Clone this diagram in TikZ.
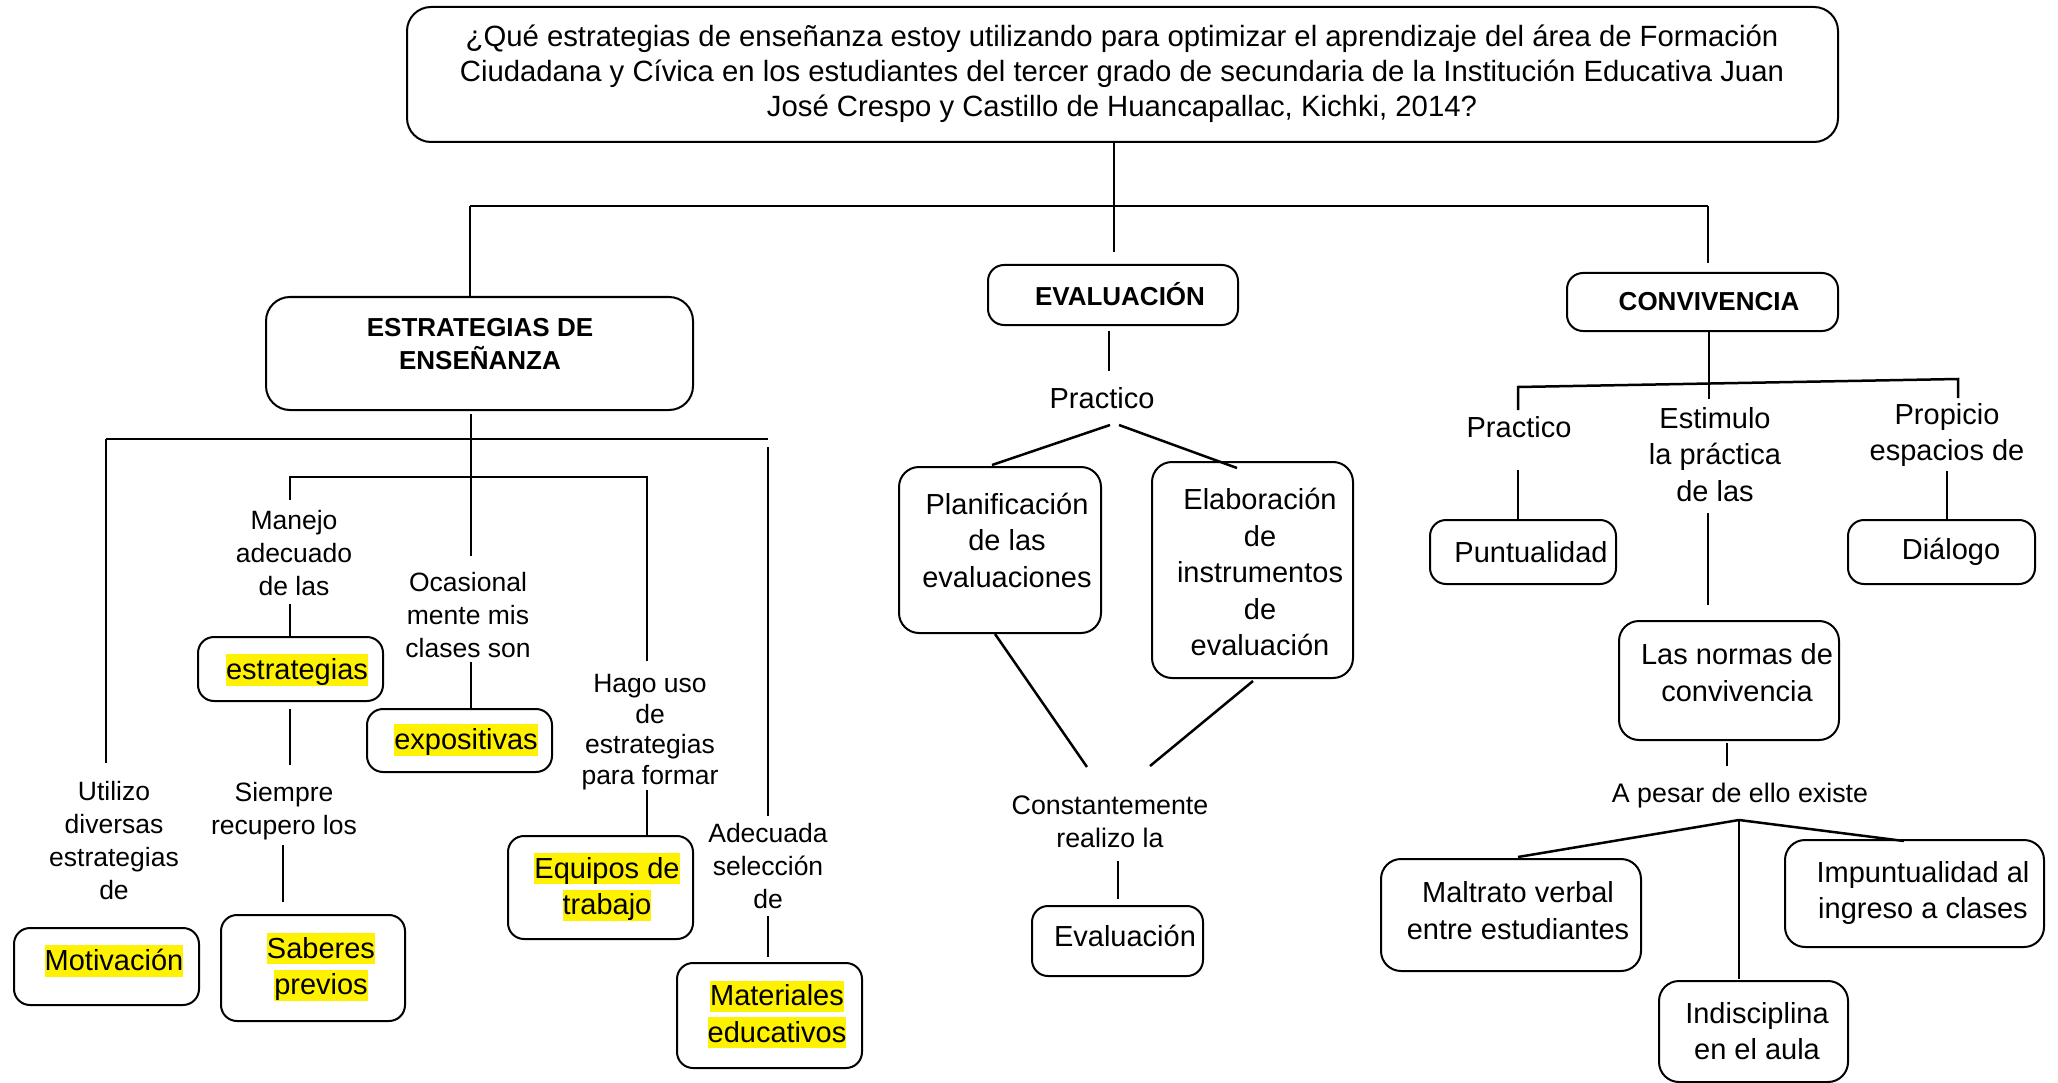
\documentclass[tikz,border=0pt]{standalone}
\usepackage{fontspec}
\setmainfont{Liberation Sans}
\newcommand{\hlt}[1]{{\setlength{\fboxsep}{0pt}\colorbox{yellow}{\vphantom{Áj}#1}}}
\begin{document}
\begin{tikzpicture}[x=1pt,y=-1pt,
  box/.style={draw, line width=2pt, rounded corners=16pt, inner sep=0pt},
  bigbox/.style={box, rounded corners=24pt},
  midbox/.style={box, rounded corners=20pt},
  conn/.style={line width=2.5pt},
  txtT/.style={font=\fontsize{29.3}{35}\selectfont, align=center, inner sep=0pt},
  txtL/.style={font=\fontsize{26.5}{33}\selectfont, align=center, inner sep=0pt},
  txtS/.style={font=\fontsize{26.8}{33}\selectfont, align=center, inner sep=0pt},
  txtM/.style={font=\fontsize{29}{36.5}\selectfont, align=center, inner sep=0pt},
  txtB/.style={font=\bfseries\fontsize{26}{33}\selectfont, align=center, inner sep=0pt}]
\useasboundingbox[fill=white] (0,0) rectangle (2058,1083);

% ---------- top question ----------
\node[bigbox, minimum width=1431pt, minimum height=135pt] (q) at (1122.5,74.5) {};
\node[txtT] (qt) at (1122,74) {¿Qué estrategias de enseñanza estoy utilizando para optimizar el aprendizaje del área de Formación\\Ciudadana y Cívica en los estudiantes del tercer grado de secundaria de la Institución Educativa Juan\\José Crespo y Castillo de Huancapallac, Kichki, 2014?};

% ---------- main headings ----------
\node[bigbox, minimum width=427pt, minimum height=113pt] (bEst) at (479.5,353.5) {};
\node[txtB] (tEst) at (480,344.5) {ESTRATEGIAS DE\\ENSEÑANZA};
\node[box, minimum width=250pt, minimum height=60pt] (bEv) at (1113,295) {};
\node[txtB] (tEv) at (1120,294) {EVALUACIÓN};
\node[box, minimum width=271pt, minimum height=58pt] (bCo) at (1702.5,302) {};
\node[txtB] (tCo) at (1709,302) {CONVIVENCIA};

% ---------- left branch ----------
\node[txtL] (tMan) at (294,553) {Manejo\\adecuado\\de las};
\node[box, minimum width=185pt, minimum height=64pt] (bEstr) at (290.5,669) {};
\node[txtM] (tEstr) at (297,670) {\hlt{estrategias}};
\node[txtL] (tSie) at (284,811) {Siempre\\recupero los};
\node[box, minimum width=184pt, minimum height=106pt] (bSab) at (313,968) {};
\node[txtM] (tSab) at (321,967) {\hlt{Saberes}\\\hlt{previos}};
\node[txtL] (tUti) at (114,840.5) {Utilizo\\diversas\\estrategias\\de};
\node[box, minimum width=185pt, minimum height=77pt] (bMot) at (106.5,966.5) {};
\node[txtM] (tMot) at (114,961) {\hlt{Motivación}};
\node[txtL] (tOca) at (468,615) {Ocasional\\mente mis\\clases son};
\node[box, minimum width=185pt, minimum height=63pt] (bExp) at (459.5,740.5) {};
\node[txtM] (tExp) at (466,740) {\hlt{expositivas}};
\node[txtL, font=\fontsize{26.5}{30.6}\selectfont] (tHag) at (650,732) {Hago uso\\de\\estrategias\\para formar};
\node[box, minimum width=185pt, minimum height=103pt] (bEqu) at (600.5,887.5) {};
\node[txtM] (tEqu) at (607,887) {\hlt{Equipos de}\\\hlt{trabajo}};
\node[txtL] (tAde) at (768,866.5) {Adecuada\\selección\\de};
\node[box, minimum width=185pt, minimum height=105pt] (bMat) at (769.5,1015.5) {};
\node[txtM] (tMat) at (777,1014.5) {\hlt{Materiales}\\\hlt{educativos}};

% ---------- middle branch ----------
\node[txtM] (tPr1) at (1102,398) {Practico};
\node[midbox, minimum width=202pt, minimum height=166pt] (bPla) at (1000,550) {};
\node[txtM] (tPla) at (1007,540) {Planificación\\de las\\evaluaciones};
\node[midbox, minimum width=201pt, minimum height=216pt] (bEla) at (1252.5,570) {};
\node[txtM] (tEla) at (1260,572) {Elaboración\\de\\instrumentos\\de\\evaluación};
\node[txtS] (tCon) at (1110,822) {Constantemente\\realizo la};
\node[box, minimum width=171pt, minimum height=70pt] (bEva) at (1117.5,941) {};
\node[txtM] (tEva) at (1125,936) {Evaluación};

% ---------- right branch ----------
\node[txtM] (tPr2) at (1519,427) {Practico};
\node[box, minimum width=186pt, minimum height=64pt] (bPun) at (1523,552) {};
\node[txtM] (tPun) at (1531,552) {Puntualidad};
\node[txtM] (tEst2) at (1715,454.5) {Estimulo\\la práctica\\de las};
\node[txtM] (tPro) at (1947,435) {Propicio\\espacios de};
\node[box, minimum width=187pt, minimum height=64pt] (bDia) at (1941.5,552) {};
\node[txtM] (tDia) at (1951,552) {Diálogo};
\node[midbox, minimum width=220pt, minimum height=119pt] (bNor) at (1729,680.5) {};
\node[txtM] (tNor) at (1737,672.5) {Las normas de\\convivencia};
\node[txtS] (tApe) at (1740,796) {A pesar de ello existe};
\node[midbox, minimum width=260pt, minimum height=112pt] (bMal) at (1511,915) {};
\node[txtM] (tMal) at (1518,910.5) {Maltrato verbal\\entre estudiantes};
\node[midbox, minimum width=259pt, minimum height=107pt] (bImp) at (1914.5,893.5) {};
\node[txtM] (tImp) at (1923,893) {Impuntualidad al\\ingreso a clases};
\node[midbox, minimum width=189pt, minimum height=101pt] (bInd) at (1753.5,1031.5) {};
\node[txtM] (tInd) at (1757,1031) {Indisciplina\\en el aula};

% ---------- junction coordinates ----------
\coordinate (qs) at (1114,142);   \coordinate (evt) at (1114,252);
\coordinate (hl) at (470,206);    \coordinate (hr) at (1708,206);
\coordinate (cvt) at (1708,263);
\coordinate (es) at (471,414);    \coordinate (eo) at (471,556);
\coordinate (l1a) at (106,439);   \coordinate (l1b) at (768,439);
\coordinate (l1c) at (106,763);
\coordinate (l1d) at (768,447);   \coordinate (l1e) at (768,816);
\coordinate (l2a) at (290,477);   \coordinate (l2b) at (647,477);
\coordinate (l2c) at (290,500);   \coordinate (l2d) at (647,661);
\coordinate (m1) at (290,604);
\coordinate (s1) at (290,709);    \coordinate (s2) at (290,765);
\coordinate (s3) at (283,845);    \coordinate (s4) at (283,902);
\coordinate (o1) at (471,662);
\coordinate (h1) at (647,790);
\coordinate (a1) at (768,916);    \coordinate (a2) at (768,957);
\coordinate (p1) at (1109,331);   \coordinate (p2) at (1109,371);
\coordinate (p3) at (1110,425);   \coordinate (p4) at (992,465);
\coordinate (p5) at (1119,425);   \coordinate (p6) at (1237,468);
\coordinate (p7) at (995,634);    \coordinate (p8) at (1087,767);
\coordinate (p9) at (1253,681);   \coordinate (p10) at (1150,766);
\coordinate (p11) at (1118,861);  \coordinate (p12) at (1118,899);
\coordinate (r1) at (1709,331);   \coordinate (r2) at (1709,399);
\coordinate (r3) at (1518,410);   \coordinate (r4) at (1518,387);
\coordinate (r5) at (1958,379);   \coordinate (r6) at (1958,398);
\coordinate (r7) at (1518,470);
\coordinate (r9) at (1708,513);   \coordinate (r10) at (1708,605);
\coordinate (r11) at (1947,471);
\coordinate (r13) at (1727,743);  \coordinate (r14) at (1727,766);
\coordinate (r15) at (1739,820);  \coordinate (r16) at (1518,857);
\coordinate (r17) at (1904,841);  \coordinate (r18) at (1739,979);

% ---------- connectors ----------
\draw[conn] (qs) -- (evt);
\draw[conn] (hl) -- (hr);
\draw[conn] (hl) -- (hl |- bEst.north);
\draw[conn] (hr) -- (cvt);
\draw[conn] (es) -- (eo);
\draw[conn] (l1a) -- (l1b);
\draw[conn] (l1a) -- (l1c);
\draw[conn] (l1d) -- (l1e);
\draw[conn] (l2c) -- (l2a) -- (l2b) -- (l2d);
\draw[conn] (m1) -- (m1 |- bEstr.north);
\draw[conn] (s1) -- (s2);
\draw[conn] (s3) -- (s4);
\draw[conn] (o1) -- (o1 |- bExp.north);
\draw[conn] (h1) -- (h1 |- bEqu.north);
\draw[conn] (a1) -- (a2);
\draw[conn] (p1) -- (p2);
\draw[conn] (p3) -- (p4);
\draw[conn] (p5) -- (p6);
\draw[conn] (p7) -- (p8);
\draw[conn] (p9) -- (p10);
\draw[conn] (p11) -- (p12);
\draw[conn] (r1) -- (r2);
\draw[conn] (r3) -- (r4) -- (r5) -- (r6);
\draw[conn] (r7) -- (r7 |- bPun.north);
\draw[conn] (r9) -- (r10);
\draw[conn] (r11) -- (r11 |- bDia.north);
\draw[conn] (r13) -- (r14);
\draw[conn] (r15) -- (r16);
\draw[conn] (r15) -- (r17);
\draw[conn] (r15) -- (r18);
\end{tikzpicture}
\end{document}
